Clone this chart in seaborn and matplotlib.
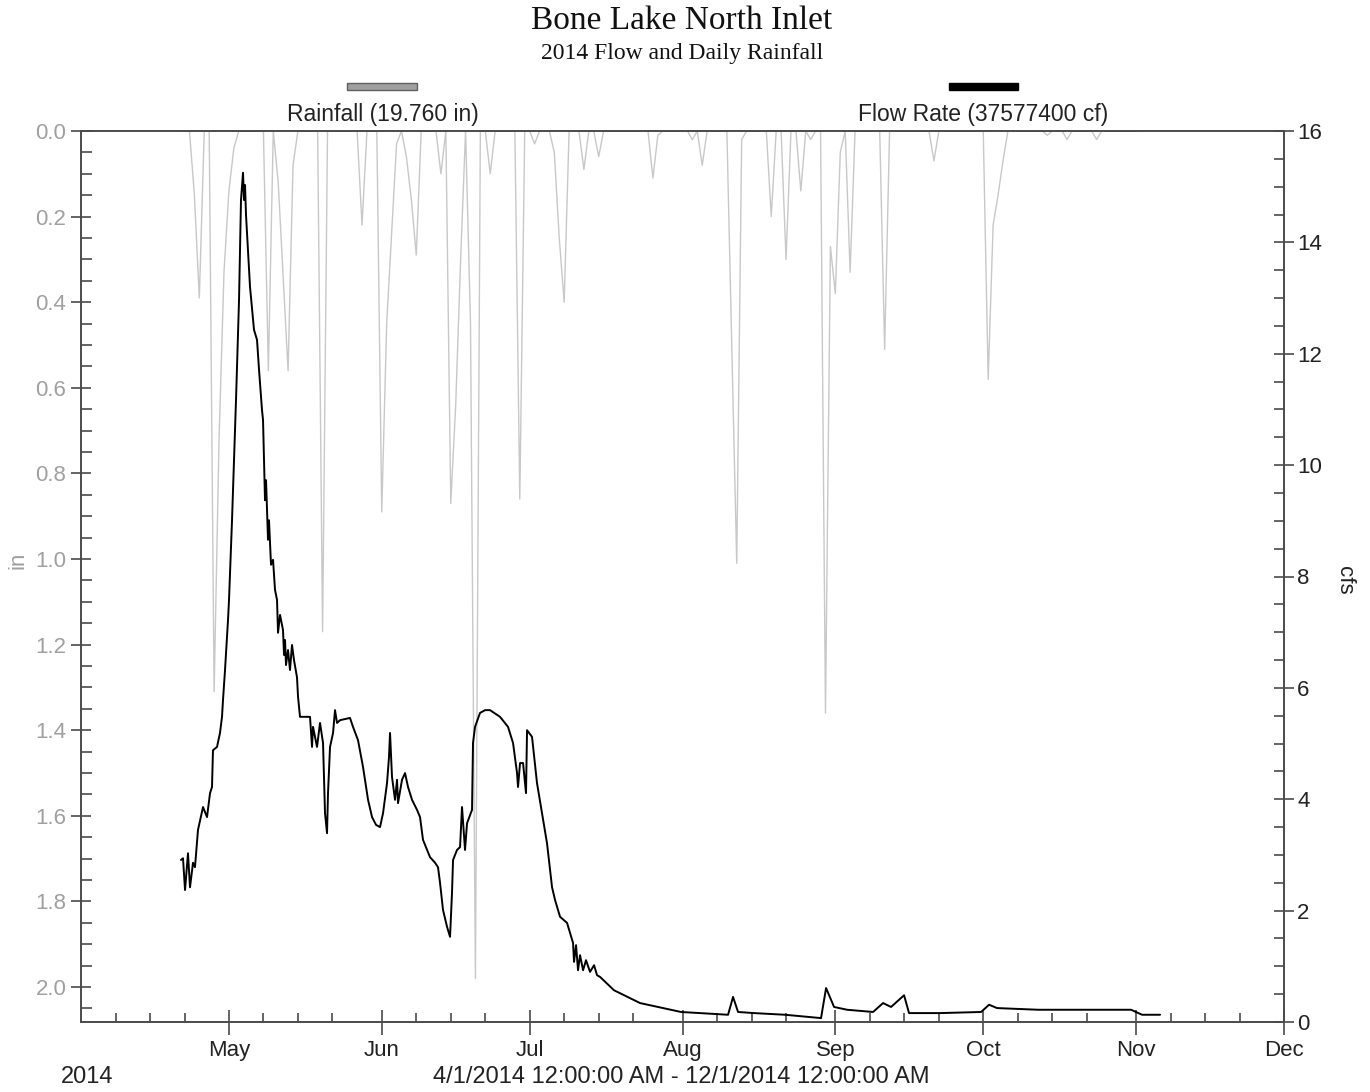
import numpy as np
import pandas as pd
import matplotlib
matplotlib.use("Agg")
import matplotlib.pyplot as plt
import matplotlib.dates as mdates
from matplotlib.ticker import MultipleLocator
from matplotlib.patches import Rectangle
import seaborn as sns

# ---------------- data ----------------
START = "2014-04-01"
END = "2014-12-01"

# daily rainfall (inches), day offset from Apr 1 -> value (all other days 0)
rain_day = [23, 24, 27, 28, 29, 30, 31, 38, 40, 41, 42, 43, 49, 57, 61, 62, 63, 64,
            66, 67, 68, 73, 75, 76, 77, 79, 80, 83, 89, 92, 96, 97, 98, 102, 105,
            116, 117, 124, 126, 132, 133, 134, 140, 143, 146, 148, 151, 152, 153, 154,
            156, 163, 173, 184, 185, 186, 187, 196, 200, 206]
rain_in = [0.15, 0.39, 1.31, 0.72, 0.33, 0.14, 0.04, 0.56, 0.12, 0.34, 0.56, 0.08,
           1.17, 0.22, 0.89, 0.45, 0.24, 0.03, 0.06, 0.16, 0.29, 0.10, 0.87, 0.64,
           0.30, 0.45, 1.98, 0.10, 0.86, 0.03, 0.05, 0.25, 0.40, 0.09, 0.06, 0.11,
           0.01, 0.02, 0.08, 0.50, 1.01, 0.02, 0.20, 0.30, 0.14, 0.02, 1.36, 0.27,
           0.38, 0.05, 0.33, 0.51, 0.07, 0.58, 0.22, 0.15, 0.07, 0.01, 0.02, 0.02]
rain_first_day = 20
rain_last_day = 214

# flow rate (cfs), time in days since Apr 1
flow_day = [20.28, 20.69, 21.10, 21.70, 22.11, 22.72, 23.12, 23.73, 24.75, 25.56,
            26.17, 26.57, 26.77, 27.59, 28.19, 28.60, 28.80, 29.21, 29.82, 30.02,
            30.63, 31.44, 32.05, 32.45, 32.86, 33.06, 33.27, 33.47, 34.28, 35.09,
            35.70, 36.11, 36.71, 36.92, 37.12, 37.32, 37.53, 37.93, 38.13, 38.54,
            38.95, 39.35, 39.76, 39.96, 40.37, 40.97, 41.18, 41.38, 41.58, 41.99,
            42.39, 42.80, 43.20, 43.81, 44.02,
            44.42, 45.44, 46.45, 46.86, 47.06, 47.87, 48.48, 49.09, 49.49, 49.90,
            50.10, 50.51, 51.12, 51.52, 51.93, 52.54, 54.56, 55.17, 56.19, 57.20,
            58.22, 59.03, 59.84, 60.65, 61.26, 62.07, 62.47, 62.68, 63.08, 63.69,
            64.10, 64.30, 65.11, 65.72, 66.33, 67.14, 68.15, 68.76, 69.37, 70.79,
            71.81, 72.41, 72.82, 73.43, 74.24, 74.85, 75.25, 75.46, 76.27, 76.88,
            77.28, 77.89, 78.30, 79.31, 79.51, 79.92, 80.93, 81.95, 82.96, 84.99,
            86.61, 87.63, 88.44, 88.64, 89.05, 89.66, 90.26, 90.47, 91.48, 92.49,
            93.51, 94.52, 95.54, 96.15, 97.16, 98.58, 99.80, 100.00, 100.41, 100.81,
            101.22, 101.83, 102.43, 103.25, 104.06, 104.67, 105.27,
            108.11, 113.39, 121.70, 131.24, 132.25, 133.27, 136.51,
            142.80, 150.10, 151.12, 152.74, 155.38, 160.65, 162.68, 164.30, 166.94,
            167.95, 174.24, 182.56, 184.18, 185.80, 194.12, 204.67, 212.98, 215.21,
            218.86]
flow_cfs = [2.91, 2.94, 2.37, 3.03, 2.42, 2.86, 2.78, 3.45, 3.86, 3.68,
            4.11, 4.22, 4.88, 4.94, 5.19, 5.48, 5.78, 6.32, 7.22, 7.58,
            9.01, 11.17, 12.96, 14.76, 15.25, 14.76, 15.03, 14.49, 13.20, 12.43,
            12.25, 11.71, 10.99, 10.81, 10.09, 9.37, 9.73, 8.66, 9.01, 8.21,
            8.30, 7.76, 7.58, 6.99, 7.31, 7.04, 6.59, 6.86, 6.41, 6.68,
            6.32, 6.77, 6.50, 6.19, 5.84,
            5.48, 5.48, 5.48, 4.94, 5.30, 4.94, 5.37, 5.01, 3.75, 3.39,
            4.11, 4.94, 5.19, 5.60, 5.37, 5.42, 5.46, 5.30, 5.06, 4.58,
            3.99, 3.68, 3.54, 3.50, 3.75, 4.29, 4.76, 5.19, 4.40, 3.99,
            4.35, 3.93, 4.35, 4.47, 4.22, 3.99, 3.81, 3.68, 3.27, 2.96,
            2.86, 2.78, 2.50, 2.01, 1.71, 1.53, 2.32, 2.91, 3.09, 3.14,
            3.86, 3.09, 3.57, 3.81, 5.01, 5.30, 5.55, 5.60, 5.60, 5.48,
            5.30, 5.01, 4.47, 4.22, 4.65, 4.65, 4.11, 5.24, 5.12, 4.29,
            3.75, 3.21, 2.42, 2.19, 1.89, 1.78, 1.42, 1.08, 1.38, 0.93,
            1.20, 0.93, 1.11, 0.90, 1.02, 0.84, 0.81,
            0.57, 0.34, 0.18, 0.13, 0.45, 0.18, 0.16,
            0.13, 0.07, 0.61, 0.27, 0.22, 0.18, 0.34, 0.27, 0.48,
            0.16, 0.16, 0.18, 0.31, 0.25, 0.22, 0.22, 0.22, 0.13,
            0.13]

title = "Bone Lake North Inlet"
subtitle = "2014 Flow and Daily Rainfall"
rain_label = "Rainfall (19.760 in)"
flow_label = "Flow Rate (37577400 cf)"
period_label = "4/1/2014 12:00:00 AM - 12/1/2014 12:00:00 AM"
year_label = "2014"

# ---------------- build frames ----------------
t0 = pd.Timestamp(START)
t1 = pd.Timestamp(END)
days = np.arange(rain_first_day, rain_last_day + 1)
rain = pd.Series(0.0, index=days)
rain.loc[rain_day] = rain_in
rain_df = pd.DataFrame({"date": t0 + pd.to_timedelta(days, unit="D"), "rain": rain.values})
flow_df = pd.DataFrame({"date": t0 + pd.to_timedelta(flow_day, unit="D"), "cfs": flow_cfs})

# ---------------- plot ----------------
sns.set_theme(style="ticks")
plt.rcParams['font.family'] = ['Liberation Sans', 'DejaVu Sans']

W, H = 1370, 1092
fig = plt.figure(figsize=(W / 100, H / 100), dpi=100)
L, R, T, B = 81, 1284, 131, 1022
ax = fig.add_axes([L / W, 1 - B / H, (R - L) / W, (B - T) / H])
ax2 = ax.twinx()

sns.lineplot(data=rain_df, x="date", y="rain", ax=ax, color="#c8c8c8",
             linewidth=1.0, legend=False)
sns.lineplot(data=flow_df, x="date", y="cfs", ax=ax2, color="black",
             linewidth=1.4, legend=False)

ax.set_xlim(t0, t1)
ax.set_ylim(2.0818, 0)
ax2.set_ylim(0, 16)

spine_c = "#4a4a4a"
for a in (ax, ax2):
    for s in a.spines.values():
        s.set_color(spine_c)
        s.set_linewidth(1.2)
    a.set_xlabel("")
    a.set_ylabel("")

ax.yaxis.set_major_locator(MultipleLocator(0.2))
ax.yaxis.set_minor_locator(MultipleLocator(0.05))
ax.yaxis.set_major_formatter(plt.FuncFormatter(lambda v, p: f"{v:.1f}"))
ax2.yaxis.set_major_locator(MultipleLocator(2))
ax2.yaxis.set_minor_locator(MultipleLocator(0.5))

ax.xaxis.set_major_locator(mdates.MonthLocator(bymonth=range(5, 13), bymonthday=1))
ax.xaxis.set_major_formatter(mdates.DateFormatter("%b"))
ax.xaxis.set_minor_locator(mdates.DayLocator(bymonthday=[8, 15, 22]))

ax.tick_params(axis="y", which="major", direction="inout", length=15, width=1.2,
               color=spine_c, labelcolor="#a0a0a0", labelsize=16, pad=3)
ax.tick_params(axis="y", which="minor", direction="in", length=8, width=1.2, color=spine_c)
ax.tick_params(axis="x", which="major", direction="inout", length=18, width=1.2,
               color=spine_c, labelcolor="#222222", labelsize=16, pad=4)
ax.tick_params(axis="x", which="minor", direction="in", length=6.5, width=1.2, color=spine_c)
ax2.tick_params(axis="y", which="major", direction="inout", length=15, width=1.2,
                color=spine_c, labelcolor="#222222", labelsize=16, pad=2)
ax2.tick_params(axis="y", which="minor", direction="in", length=7, width=1.2, color=spine_c)

# axis labels
fig.text(18 / W, 1 - 560 / H, "in", rotation=90, ha="center", va="center",
         color="#a0a0a0", fontsize=16)
fig.text(1345 / W, 1 - 580 / H, "cfs", rotation=270, ha="center", va="center",
         color="#222222", fontsize=16)

# titles
fig.text(682 / W, 1 - 21 / H, title, ha="center", va="center",
         family=["Liberation Serif", "DejaVu Serif"], fontsize=24, color="#111111")
fig.text(682 / W, 1 - 54 / H, subtitle, ha="center", va="center",
         family=["Liberation Serif", "DejaVu Serif"], fontsize=17, color="#111111")

# legend bars + labels
fig.add_artist(Rectangle((347 / W, 1 - 90 / H), 70 / W, 7 / H, transform=fig.transFigure,
                         facecolor="#a0a0a0", edgecolor="#606060", linewidth=1.0))
fig.add_artist(Rectangle((949 / W, 1 - 90 / H), 69 / W, 7 / H, transform=fig.transFigure,
                         facecolor="black", edgecolor="black", linewidth=1.0))
fig.text(383 / W, 1 - 115 / H, rain_label, ha="center", va="center", fontsize=16.5, color="#222222")
fig.text(983 / W, 1 - 115 / H, flow_label, ha="center", va="center", fontsize=16.5, color="#222222")

# bottom texts
fig.text(87 / W, 1 - 1077 / H, year_label, ha="center", va="center", fontsize=17, color="#222222")
fig.text(681 / W, 1 - 1077 / H, period_label, ha="center", va="center", fontsize=17, color="#222222")

fig.savefig("out.png", dpi=100, facecolor="white")
